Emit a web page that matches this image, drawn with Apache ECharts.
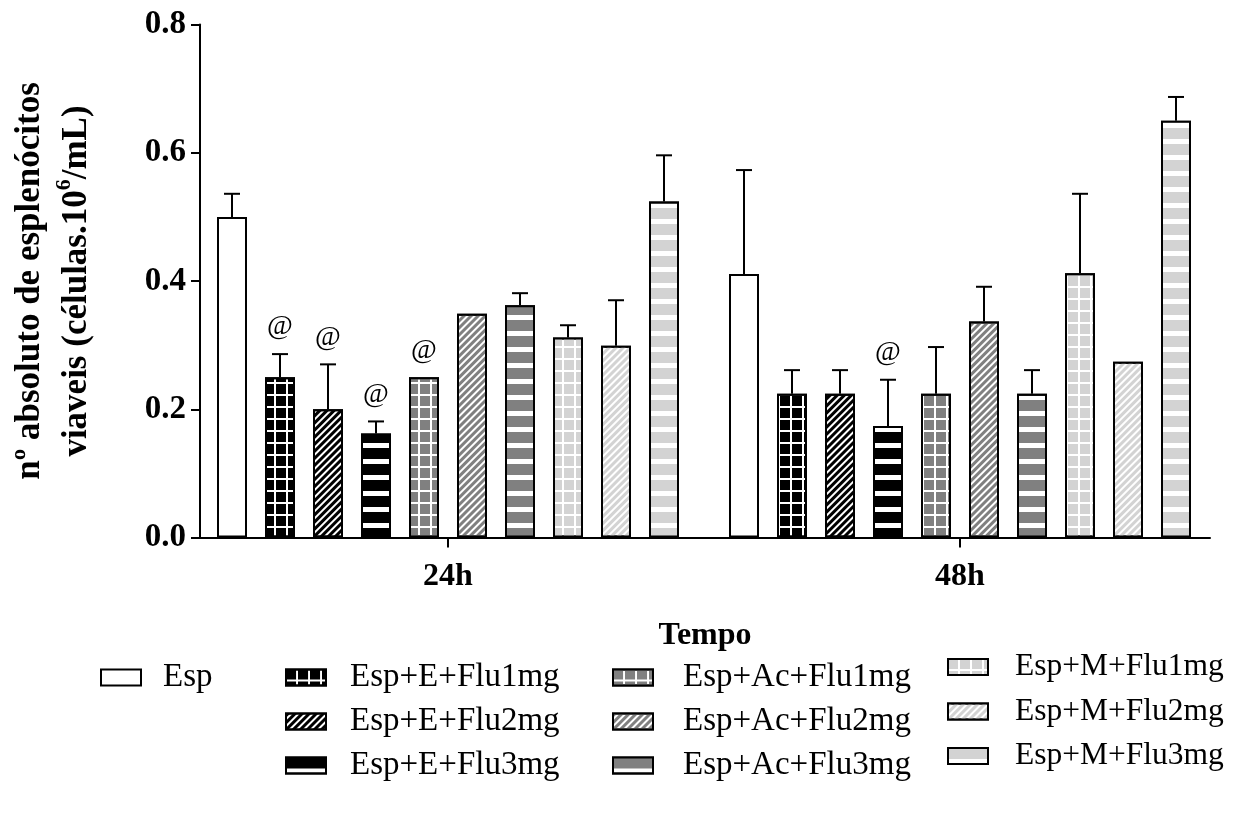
<!DOCTYPE html>
<html>
<head>
<meta charset="utf-8">
<script src="https://cdn.jsdelivr.net/npm/echarts@6/dist/echarts.min.js"></script>
<style>
  html, body { margin: 0; padding: 0; background: #fff; }
  #chart { width: 1240px; height: 823px; }
</style>
</head>
<body>
<div id="chart"></div>
<script>
// Time points on the x axis
const categories = ['24h', '48h'];

// Group names (legend order)
const seriesNames = [
  'Esp',
  'Esp+E+Flu1mg', 'Esp+E+Flu2mg', 'Esp+E+Flu3mg',
  'Esp+Ac+Flu1mg', 'Esp+Ac+Flu2mg', 'Esp+Ac+Flu3mg',
  'Esp+M+Flu1mg', 'Esp+M+Flu2mg', 'Esp+M+Flu3mg'
];

// Mean viable splenocytes (cells x10^6/mL), [24h, 48h]
const esp      = [0.500, 0.411];
const espEF1   = [0.250, 0.224];
const espEF2   = [0.200, 0.224];
const espEF3   = [0.162, 0.174];
const espAcF1  = [0.250, 0.224];
const espAcF2  = [0.349, 0.337];
const espAcF3  = [0.362, 0.224];
const espMF1   = [0.312, 0.412];
const espMF2   = [0.299, 0.274];
const espMF3   = [0.524, 0.650];

// Upper error (SEM), [24h, 48h]
const espErr    = [0.036, 0.162];
const espEF1Err = [0.036, 0.037];
const espEF2Err = [0.070, 0.037];
const espEF3Err = [0.019, 0.072];
const espAcF1Err= [0.000, 0.073];
const espAcF2Err= [0.000, 0.054];
const espAcF3Err= [0.019, 0.037];
const espMF1Err = [0.019, 0.124];
const espMF2Err = [0.071, 0.000];
const espMF3Err = [0.072, 0.037];

// Significance marker '@', [24h, 48h]
const sigEsp    = [0, 0];
const sigEF1    = [1, 0];
const sigEF2    = [1, 0];
const sigEF3    = [1, 1];
const sigAcF1   = [1, 0];
const sigAcF2   = [0, 0];
const sigAcF3   = [0, 0];
const sigMF1    = [0, 0];
const sigMF2    = [0, 0];
const sigMF3    = [0, 0];

// Y axis ticks
const yTicks = [0.0, 0.2, 0.4, 0.6, 0.8];

const means = [esp, espEF1, espEF2, espEF3, espAcF1, espAcF2, espAcF3, espMF1, espMF2, espMF3];
const errs  = [espErr, espEF1Err, espEF2Err, espEF3Err, espAcF1Err, espAcF2Err, espAcF3Err, espMF1Err, espMF2Err, espMF3Err];
const sigs  = [sigEsp, sigEF1, sigEF2, sigEF3, sigAcF1, sigAcF2, sigAcF3, sigMF1, sigMF2, sigMF3];

const FONT = '"Liberation Serif", "Times New Roman", serif';
const BLACK = '#000000', GRAY = '#808080', LIGHT = '#d3d3d3';
const BAR_W = 30, BAR_GAP = 18, CAP_HALF = 8;

// Fill patterns: white base with a coloured decal on top
function gridDecal(c)   { return { symbol: 'rect', symbolSize: 1, color: c, dashArrayX: [10, 2], dashArrayY: [10, 2] }; }
function diagDecal(c)   { return { symbol: 'rect', symbolSize: 1, color: c, dashArrayX: [1, 0], dashArrayY: [3, 2], rotation: -Math.PI / 4 }; }
function stripeDecal(c) { return { symbol: 'rect', symbolSize: 1, color: c, dashArrayX: [1, 0], dashArrayY: [11, 5] }; }

const styles = [
  { color: '#ffffff' },
  { color: '#ffffff', decal: gridDecal(BLACK) },
  { color: '#ffffff', decal: diagDecal(BLACK) },
  { color: '#ffffff', decal: stripeDecal(BLACK) },
  { color: '#ffffff', decal: gridDecal(GRAY) },
  { color: '#ffffff', decal: diagDecal(GRAY) },
  { color: '#ffffff', decal: stripeDecal(GRAY) },
  { color: '#ffffff', decal: gridDecal(LIGHT) },
  { color: '#ffffff', decal: diagDecal(LIGHT) },
  { color: '#ffffff', decal: stripeDecal(LIGHT) }
];

const barSeries = seriesNames.map((name, i) => ({
  name: name,
  type: 'bar',
  xAxisIndex: 0,
  yAxisIndex: 0,
  barWidth: BAR_W,
  barGap: (BAR_GAP / BAR_W * 100) + '%',
  data: means[i],
  itemStyle: Object.assign({ borderColor: '#000', borderWidth: 2 }, styles[i]),
  emphasis: { disabled: true },
  z: 2
}));

// Error bars and '@' markers
const errData = [];
seriesNames.forEach((name, s) => {
  categories.forEach((c, k) => {
    errData.push([k, s, means[s][k], errs[s][k], sigs[s][k]]);
  });
});

function renderErr(params, api) {
  const cat = api.value(0), s = api.value(1), v = api.value(2), e = api.value(3), sig = api.value(4);
  const dx = (s - (seriesNames.length - 1) / 2) * (BAR_W + BAR_GAP);
  const top = api.coord([cat, v]);
  const cap = api.coord([cat, v + e]);
  const x = top[0] + dx;
  const children = [];
  if (e > 0) {
    children.push({ type: 'line', shape: { x1: x, y1: top[1], x2: x, y2: cap[1] }, style: { stroke: '#000', lineWidth: 2 } });
    children.push({ type: 'line', shape: { x1: x - CAP_HALF, y1: cap[1], x2: x + CAP_HALF, y2: cap[1] }, style: { stroke: '#000', lineWidth: 2 } });
  }
  if (sig) {
    children.push({ type: 'text', x: x, y: cap[1] - 13,
      style: { text: '@', font: '28px ' + FONT, fill: '#000', align: 'center', verticalAlign: 'bottom' } });
  }
  return { type: 'group', children: children };
}

function legendFor(names, left, top, textGap, fontSize) {
  return {
    data: names,
    orient: 'vertical',
    left: left,
    top: top,
    padding: 0,
    itemGap: 44 - fontSize,
    itemWidth: 40,
    itemHeight: 16,
    icon: 'rect',
    selectedMode: false,
    itemStyle: { borderColor: '#000', borderWidth: 2 },
    textStyle: { fontFamily: FONT, fontSize: fontSize, color: '#000', padding: [0, 0, 0, textGap] }
  };
}

const chart = echarts.init(document.getElementById('chart'), null, { renderer: 'canvas' });
chart.setOption({
  backgroundColor: '#ffffff',
  animation: false,
  legend: [
    legendFor([seriesNames[0]], 100, 661, 17, 33),
    legendFor(seriesNames.slice(1, 4), 285, 661, 19, 33),
    legendFor(seriesNames.slice(4, 7), 612, 661, 25, 33),
    legendFor(seriesNames.slice(7, 10), 947, 651, 22, 31.5)
  ],
  grid: [
    { left: 192, right: 24, top: 24.5, bottom: 285.5, containLabel: false, outerBoundsMode: 'none' },
    { left: 200, right: 30, top: 24.5, bottom: 285.5, containLabel: false, outerBoundsMode: 'none' }
  ],
  xAxis: [
    {
      type: 'category', gridIndex: 0, data: categories,
      axisLine: { show: false },
      axisTick: { show: true, alignWithLabel: true, length: 10, lineStyle: { color: '#000', width: 2 } },
      axisLabel: { fontFamily: FONT, fontWeight: 'bold', fontSize: 32, color: '#000', margin: 23 },
      splitLine: { show: false }
    },
    {
      type: 'value', gridIndex: 1, min: 0, max: 1,
      axisLine: { show: true, lineStyle: { color: '#000', width: 2 } },
      axisTick: { show: false }, axisLabel: { show: false }, splitLine: { show: false },
      name: 'Tempo', nameLocation: 'middle', nameGap: 82,
      nameTextStyle: { fontFamily: FONT, fontWeight: 'bold', fontSize: 32, color: '#000' }
    }
  ],
  yAxis: [
    { type: 'value', gridIndex: 0, min: 0, max: 0.8, show: false },
    {
      type: 'value', gridIndex: 1, min: yTicks[0], max: yTicks[yTicks.length - 1], interval: 0.2,
      axisLine: { show: true, lineStyle: { color: '#000', width: 2 } },
      axisTick: { show: true, length: 9, lineStyle: { color: '#000', width: 2 } },
      axisLabel: { fontFamily: FONT, fontWeight: 'bold', fontSize: 33, color: '#000', margin: 14,
                   formatter: v => v.toFixed(1) },
      splitLine: { show: false },
      name: 'nº absoluto de esplenócitos\nviaveis (células.10{sup|6}/mL)',
      nameLocation: 'middle', nameRotate: 90, nameGap: 100,
      nameTextStyle: {
        fontFamily: FONT, fontWeight: 'bold', fontSize: 35, color: '#000', lineHeight: 47,
        rich: { sup: { fontFamily: FONT, fontWeight: 'bold', fontSize: 22, color: '#000', verticalAlign: 'top', lineHeight: 47 } }
      }
    }
  ],
  series: barSeries.concat([{
    type: 'custom',
    xAxisIndex: 0,
    yAxisIndex: 0,
    renderItem: renderErr,
    data: errData,
    encode: { x: 0, y: 2 },
    silent: true,
    z: 3
  }])
});
</script>
</body>
</html>
